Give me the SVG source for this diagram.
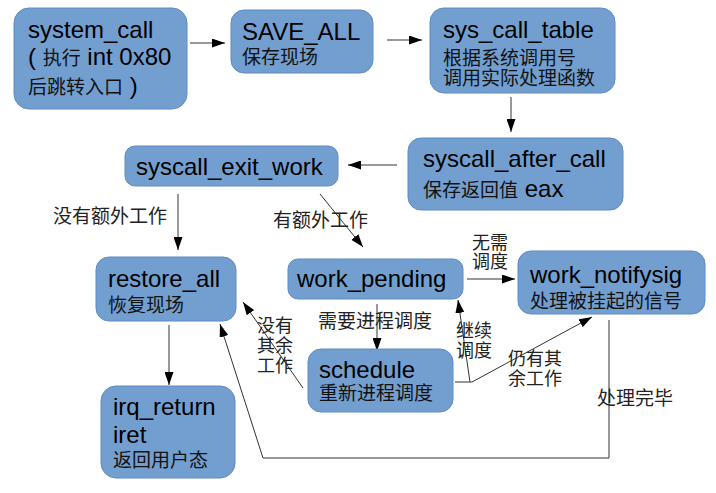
<svg xmlns="http://www.w3.org/2000/svg" width="716" height="493" viewBox="0 0 716 493">
<style>
.box{fill:#729fcf;stroke:#5f8cc0;stroke-width:1}
.t{font-family:"Liberation Sans","Noto Sans CJK SC",sans-serif;font-size:24px;fill:#000}
.c{font-family:"Noto Sans CJK SC",sans-serif;font-size:19px;fill:#111}
.l{font-family:"Noto Sans CJK SC",sans-serif;font-size:19px;fill:#222}
.s{font-family:"Noto Sans CJK SC",sans-serif;font-size:18px;fill:#222}
.ln{fill:none;stroke:#333;stroke-width:1}
</style>
<defs>
<marker id="a" viewBox="0 0 13 9" refX="13" refY="4.5" markerWidth="13" markerHeight="9" markerUnits="userSpaceOnUse" orient="auto">
<path d="M0,0L13,4.5L0,9z" fill="#000"/>
</marker>
</defs>
<rect width="716" height="493" fill="#fff"/>
<g id="connectors">
<path class="ln" marker-end="url(#a)" d="M190,43H225"/>
<path class="ln" marker-end="url(#a)" d="M387,40H422"/>
<path class="ln" marker-end="url(#a)" d="M511,97V132"/>
<path class="ln" marker-end="url(#a)" d="M397,165H348"/>
<path class="ln" marker-end="url(#a)" d="M178,194V250"/>
<path class="ln" marker-end="url(#a)" d="M320,194L363,247"/>
<path class="ln" marker-end="url(#a)" d="M467,279H515"/>
<path class="ln" marker-end="url(#a)" d="M377,304V351"/>
<path class="ln" marker-end="url(#a)" d="M455,382H470L458,300"/>
<path class="ln" marker-end="url(#a)" d="M470,382H472L592,317"/>
<path class="ln" marker-end="url(#a)" d="M303,388L243,302"/>
<path class="ln" marker-end="url(#a)" d="M609,320V458H263L220,324"/>
<path class="ln" marker-end="url(#a)" d="M169,325V385"/>
<text class="l" x="53" y="223">没有额外工作</text>
<text class="l" x="273" y="227">有额外工作</text>
<text class="s" x="472" y="249">无需<tspan x="472" dy="19">调度</tspan></text>
<text class="l" x="318" y="328">需要进程调度</text>
<text class="s" x="456" y="337">继续<tspan x="456" dy="20">调度</tspan></text>
<text class="s" x="508" y="365">仍有其<tspan x="508" dy="20">余工作</tspan></text>
<text class="s" x="257" y="332">没有<tspan x="257" dy="20">其余</tspan><tspan x="257" dy="20">工作</tspan></text>
<text class="l" x="597" y="405">处理完毕</text>
</g>
<g id="system_call">
<rect class="box" x="14" y="8" width="173" height="101" rx="15"/>
<text class="t" x="28" y="38">system_call<tspan x="28" dy="27">( </tspan><tspan class="c">执行</tspan> int 0x80<tspan x="28" dy="29" class="c">后跳转入口</tspan> )</text>
</g>
<g id="save_all">
<rect class="box" x="231" y="10" width="142" height="63" rx="13"/>
<text class="t" x="242" y="40">SAVE_ALL<tspan class="c" x="242" dy="24">保存现场</tspan></text>
</g>
<g id="sys_call_table">
<rect class="box" x="430" y="8" width="185" height="85" rx="14"/>
<text class="t" x="443" y="38">sys_call_table<tspan class="c" x="443" dy="27">根据系统调用号</tspan><tspan class="c" x="443" dy="20">调用实际处理函数</tspan></text>
</g>
<g id="syscall_after_call">
<rect class="box" x="408" y="138" width="215" height="72" rx="13"/>
<text class="t" x="423" y="167">syscall_after_call<tspan x="423" dy="30" class="c">保存返回值</tspan> eax</text>
</g>
<g id="syscall_exit_work">
<rect class="box" x="125" y="146" width="213" height="40" rx="10"/>
<text class="t" x="136" y="175">syscall_exit_work</text>
</g>
<g id="restore_all">
<rect class="box" x="96" y="257" width="140" height="64" rx="13"/>
<text class="t" x="108" y="287">restore_all<tspan class="c" x="108" dy="25">恢复现场</tspan></text>
</g>
<g id="work_pending">
<rect class="box" x="288" y="259" width="175" height="40" rx="10"/>
<text class="t" x="297" y="287">work_pending</text>
</g>
<g id="work_notifysig">
<rect class="box" x="518" y="251" width="187" height="63" rx="13"/>
<text class="t" x="530" y="283">work_notifysig<tspan class="c" x="530" dy="25">处理被挂起的信号</tspan></text>
</g>
<g id="schedule">
<rect class="box" x="308" y="349" width="145" height="63" rx="13"/>
<text class="t" x="319" y="378">schedule<tspan class="c" x="319" dy="22">重新进程调度</tspan></text>
</g>
<g id="irq_return">
<rect class="box" x="101" y="386" width="134" height="92" rx="15"/>
<text class="t" x="113" y="415">irq_return<tspan x="113" dy="28">iret</tspan><tspan class="c" x="113" dy="24">返回用户态</tspan></text>
</g>
</svg>
